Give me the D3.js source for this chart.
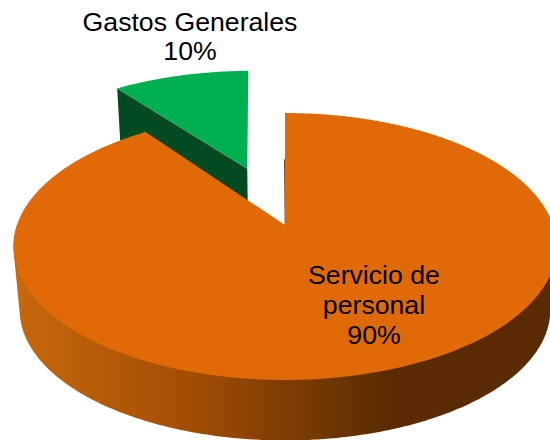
<!DOCTYPE html>
<html>
<head>
<meta charset="utf-8">
<style>html,body{margin:0;padding:0;background:#fff;overflow:hidden}svg{display:block}</style>
<script src="https://cdn.jsdelivr.net/npm/d3@7/dist/d3.min.js"></script>
</head>
<body>
<svg id="c" width="550" height="440"></svg>
<script>
const categories = ["Gastos Generales", "Servicio de personal"];
const values = [10, 90];
const percentLabels = ["10%", "90%"];
const topColors = ["#00B050", "#E16A08"];
const sideColors = ["#024A22", "#5A2B02"];
const sideGradientStops = ["#C8680D", "#A34E05", "#5A2B02", "#5A2B02"];
const explode = [0.49, 0];
const sliceTurn = [-0.018, 0];

const svg = d3.select("#c");
const cx = 285, cy = 225, R = 268, S = 130, k = 0.161;
const depth = 64, shrink = 0.977;

const slices = d3.pie().sort(null).value(d => d)
  .startAngle(-2 * Math.PI * values[0] / d3.sum(values))
  .endAngle(2 * Math.PI * (1 - values[0] / d3.sum(values)))(values);

// Perspective projection of the pie plane onto the screen
function project(ux, uy, bottom) {
  const w = 1 - k * uy;
  const sx = R * ux / w, sy = S * uy / w;
  return bottom ? [cx + sx * shrink, cy + sy * shrink + depth] : [cx + sx, cy + sy];
}
const line = d3.line();
function offset(i, s) {
  const mid = (s.startAngle + s.endAngle) / 2;
  return [explode[i] * Math.sin(mid), -explode[i] * Math.cos(mid)];
}
function rim(off, a0, a1, bottom) {
  const n = Math.ceil(Math.abs(a1 - a0) / 0.01);
  return d3.range(n + 1).map(j => {
    const a = a0 + (a1 - a0) * j / n;
    return project(off[0] + Math.sin(a), off[1] - Math.cos(a), bottom);
  });
}

const defs = svg.append("defs");
const grad = defs.append("linearGradient").attr("id", "wall")
  .attr("gradientUnits", "userSpaceOnUse").attr("x1", 15).attr("x2", 550).attr("y1", 0).attr("y2", 0);
[0, 0.32, 0.7, 1].forEach((o, i) => grad.append("stop").attr("offset", o).attr("stop-color", sideGradientStops[i]));

// Exploded slice: wall first, then its top face
const g = slices[0], gOff = offset(0, g);
const gA0 = g.startAngle + sliceTurn[0], gA1 = g.endAngle + sliceTurn[0];
const gCenterT = project(gOff[0], gOff[1], false), gCenterB = project(gOff[0], gOff[1], true);
const gCornerT = project(gOff[0] + Math.sin(gA0), gOff[1] - Math.cos(gA0), false);
const gCornerB = project(gOff[0] + Math.sin(gA0), gOff[1] - Math.cos(gA0), true);
svg.append("path").attr("fill", sideColors[0])
  .attr("d", line([gCornerT, gCenterT, gCenterB, gCornerB]) + "Z");
svg.append("path").attr("fill", topColors[0])
  .attr("d", line([gCenterT, ...rim(gOff, gA0, gA1, false)]) + "Z");

// Main slice: curved front wall (hull joins top and bottom rims), thin cut face, top face
const m = slices[1], mOff = offset(1, m);
const wallPts = [...rim(mOff, Math.PI * 0.5, Math.PI * 1.5, false), ...rim(mOff, Math.PI * 0.5, Math.PI * 1.5, true)];
svg.append("path").attr("fill", "url(#wall)")
  .attr("d", line(d3.polygonHull(wallPts)) + "Z");
const mEdge = project(Math.sin(m.startAngle) * 0.55, -Math.cos(m.startAngle) * 0.55, false);
const mApex = project(0, 0, false);
svg.append("path").attr("fill", "none").attr("stroke", sideColors[1]).attr("stroke-width", 1)
  .attr("d", line([[mEdge[0] - 0.4, mEdge[1]], [mApex[0] + 0.2, mApex[1]]]));
svg.append("path").attr("fill", topColors[1])
  .attr("d", line([mApex, ...rim(mOff, m.startAngle, m.endAngle, false)]) + "Z");

// Labels
const fontFamily = "'Liberation Sans', Arial, sans-serif";
function label(x, ys, lines) {
  const t = svg.append("text").attr("text-anchor", "middle").attr("font-family", fontFamily)
    .attr("font-size", 26.67).attr("fill", "#000");
  lines.forEach((l, i) => t.append("tspan").attr("x", x).attr("y", ys[i]).text(l));
}
label(190, [31, 60], [categories[0], percentLabels[0]]);
label(374, [284, 314, 344], ["Servicio de", "personal", percentLabels[1]]);
</script>
</body>
</html>
